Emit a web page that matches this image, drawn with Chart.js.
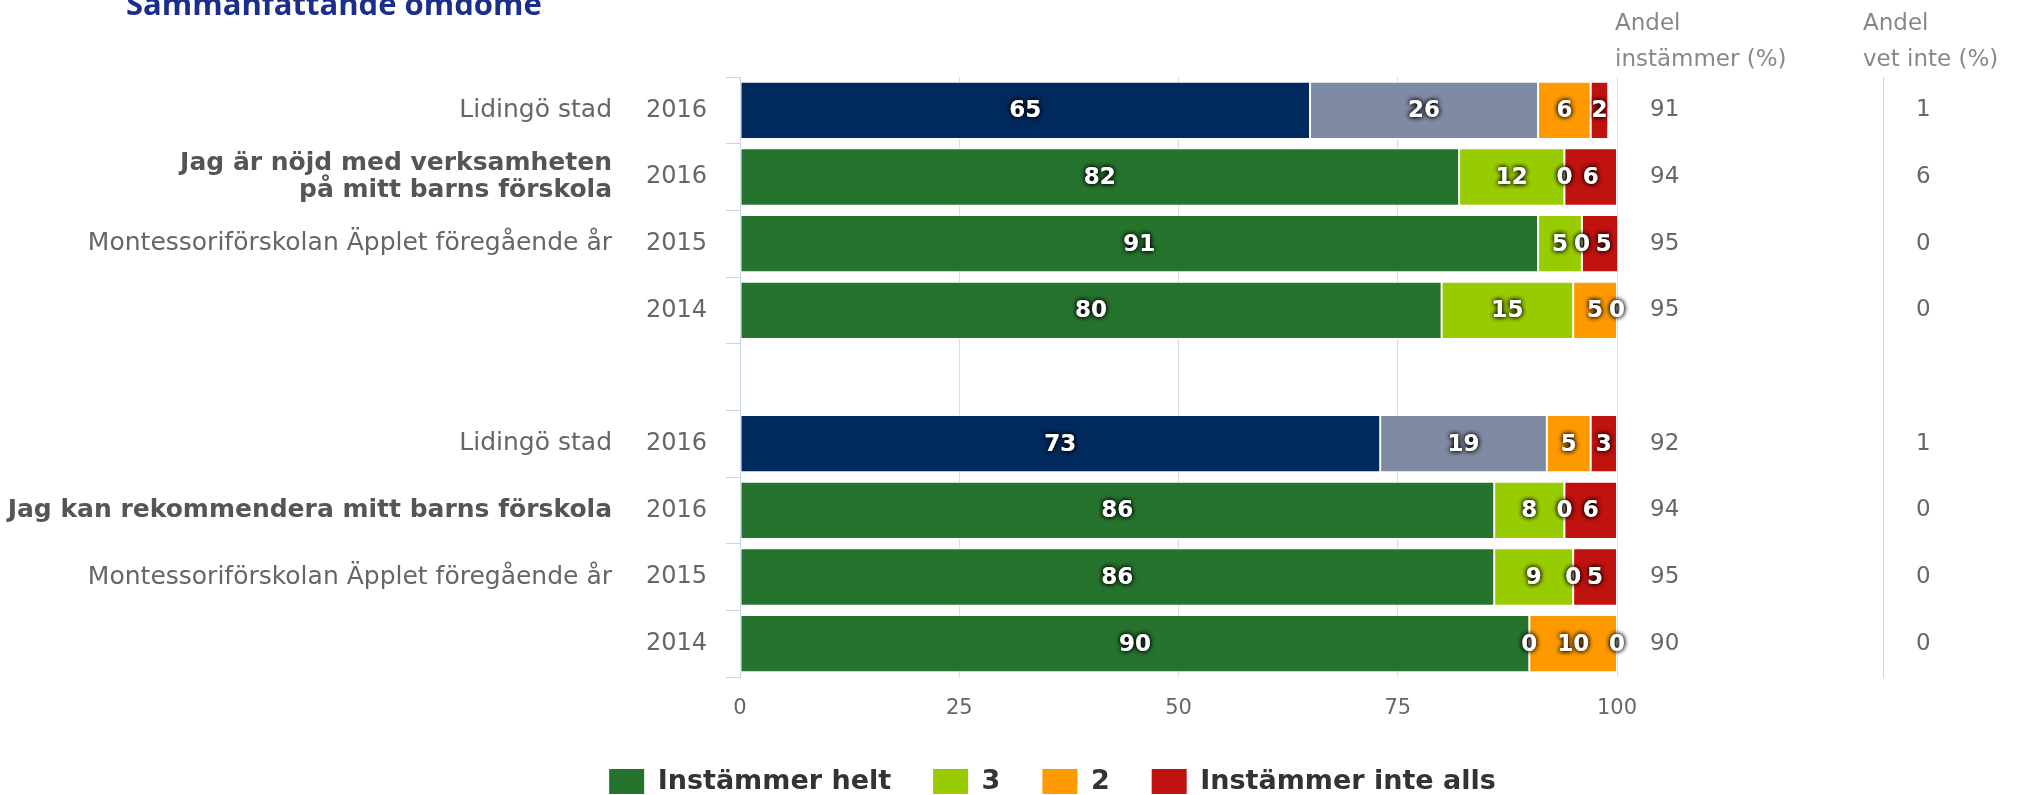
<!DOCTYPE html>
<html>
<head>
<meta charset="utf-8">
<script src="https://cdn.jsdelivr.net/npm/chart.js@4.4.0/dist/chart.umd.min.js"></script>
<style>
  html, body { margin: 0; padding: 0; background: #fff; }
</style>
</head>
<body>
<canvas id="wykres" width="2040" height="795"></canvas>
<script>
// rader (uppifrån och ned), rad 4 är ett tomt mellanrum
const years = ['2016', '2016', '2015', '2014', '', '2016', '2016', '2015', '2014'];
const groups = [
  'Lidingö stad',
  ['Jag är nöjd med verksamheten', 'på mitt barns förskola'],
  'Montessoriförskolan Äpplet föregående år',
  '',
  '',
  'Lidingö stad',
  'Jag kan rekommendera mitt barns förskola',
  'Montessoriförskolan Äpplet föregående år',
  ''
];
const boldRows = [1, 6];
const cityRows = [0, 5];

const seriesNames = ['Instämmer helt', '3', '2', 'Instämmer inte alls'];
const helt     = [65, 82, 91, 80, null, 73, 86, 86, 90];
const tre      = [26, 12, 5, 15, null, 19, 8, 9, 0];
const tva      = [6, 0, 0, 5, null, 5, 0, 0, 10];
const inteAlls = [2, 6, 5, 0, null, 3, 6, 5, 0];

const andelInstammer = [91, 94, 95, 95, null, 92, 94, 95, 90];
const andelVetInte   = [1, 6, 0, 0, null, 1, 0, 0, 0];

const xTicks = [0, 25, 50, 75, 100];

const colors     = ['#26732d', '#99cc00', '#ff9900', '#c0120f'];
const cityColors = ['#002a5e', '#7f8aa3', '#ff9900', '#c0120f'];

const FONT = 'DejaVu Sans';

// siffror i staplarna, vita med mörk skugga
const valueLabels = {
  id: 'valueLabels',
  afterDatasetsDraw(chart) {
    const ctx = chart.ctx;
    ctx.save();
    ctx.font = 'bold 23px "' + FONT + '"';
    ctx.textAlign = 'center';
    ctx.textBaseline = 'middle';
    chart.data.datasets.forEach((ds, i) => {
      chart.getDatasetMeta(i).data.forEach((bar, j) => {
        const v = ds.data[j];
        if (v == null) return;
        const x = (bar.x + bar.base) / 2;
        ctx.shadowColor = 'rgba(0,0,0,0.95)';
        ctx.shadowBlur = 5;
        ctx.fillStyle = '#fff';
        ctx.fillText(v, x, bar.y + 1);
        ctx.fillText(v, x, bar.y + 1);
      });
    });
    ctx.restore();
  }
};

// rubrik + kolumnrubriker
const extras = {
  id: 'extras',
  afterLayout(chart) {
    // legenden ligger lite till höger om mitten
    chart.legend.left = 65;
  },
  afterDraw(chart) {
    const { ctx, chartArea } = chart;
    const y4 = chart.scales.vetInte;
    ctx.save();
    ctx.fillStyle = '#1b2e8b';
    ctx.font = 'bold 31px "Open Sans"';
    ctx.textAlign = 'left';
    ctx.textBaseline = 'alphabetic';
    ctx.fillText('Sammanfattande omdöme', 126, 15);

    ctx.fillStyle = '#888';
    ctx.font = '23px "' + FONT + '"';
    ctx.fillText('Andel', chartArea.right - 2, 30);
    ctx.fillText('instämmer (%)', chartArea.right - 2, 66);
    ctx.fillText('Andel', y4.left - 20, 30);
    ctx.fillText('vet inte (%)', y4.left - 20, 66);
    ctx.restore();
  }
};

const seriesData = [helt, tre, tva, inteAlls];

new Chart(document.getElementById('wykres'), {
  type: 'bar',
  data: {
    labels: years,
    datasets: seriesData.map((d, i) => ({
      label: seriesNames[i],
      data: d,
      backgroundColor: c => (cityRows.includes(c.dataIndex) ? cityColors[i] : colors[i]),
      borderColor: '#ffffff',
      borderWidth: 1,
      borderSkipped: false,
      barPercentage: 0.86,
      categoryPercentage: 1.0,
      yAxisID: 'y'
    }))
  },
  options: {
    indexAxis: 'y',
    responsive: false,
    animation: false,
    devicePixelRatio: 1,
    layout: { padding: { top: 77, left: 0, right: 0, bottom: 0 } },
    plugins: {
      tooltip: { enabled: false },
      legend: {
        position: 'bottom',
        maxHeight: 69,
        labels: {
          boxWidth: 35,
          boxHeight: 25,
          padding: 42,
          color: '#333',
          font: { family: FONT, size: 27, weight: 'bold' },
          generateLabels: () => seriesNames.map((n, i) => ({
            text: n, fillStyle: colors[i], strokeStyle: colors[i], lineWidth: 0,
            hidden: false, datasetIndex: i, fontColor: '#333'
          }))
        }
      }
    },
    scales: {
      x: {
        type: 'linear', stacked: true, min: 0, max: 100, position: 'bottom',
        grid: { color: '#dcdcdc', drawTicks: false },
        border: { display: false },
        ticks: { padding: 19, color: '#666', font: { family: FONT, size: 21 } },
        afterBuildTicks: s => { s.ticks = xTicks.map(v => ({ value: v })); },
        afterFit: s => { s.height = 49; }
      },
      y: {
        type: 'category', stacked: true, position: 'left', offset: true, weight: 0,
        grid: { offset: true, drawOnChartArea: false, drawTicks: true, tickLength: 14, color: '#c6d4e4' },
        border: { display: true, color: '#c6d4e4' },
        ticks: { padding: 19, autoSkip: false, color: '#666', font: { family: FONT, size: 24 } },
        afterFit: s => { s.width = 94; }
      },
      grupp: {
        type: 'category', position: 'left', offset: true, weight: 1, labels: groups,
        grid: { display: false, drawTicks: false }, border: { display: false },
        ticks: {
          padding: 34, autoSkip: false,
          color: c => (boldRows.includes(c.index) ? '#555' : '#666'),
          font: c => ({ family: FONT, size: 25, lineHeight: 1.1, weight: boldRows.includes(c.index) ? 'bold' : 'normal' })
        },
        afterFit: s => { s.width = 646; }
      },
      instammer: {
        type: 'category', position: 'right', offset: true, weight: 0,
        labels: andelInstammer.map(v => (v == null ? '' : String(v))),
        grid: { display: false, drawTicks: false }, border: { display: false },
        ticks: { padding: 33, autoSkip: false, color: '#666', font: { family: FONT, size: 23 } },
        afterFit: s => { s.width = 266; }
      },
      vetInte: {
        type: 'category', position: 'right', offset: true, weight: 1,
        labels: andelVetInte.map(v => (v == null ? '' : String(v))),
        grid: { display: true, drawOnChartArea: false, drawTicks: false, color: '#c6d4e4' },
        border: { display: true, color: '#c6d4e4' },
        ticks: { padding: 33, autoSkip: false, color: '#666', font: { family: FONT, size: 23 } },
        afterFit: s => { s.width = 157; }
      }
    }
  },
  plugins: [valueLabels, extras]
});
</script>
</body>
</html>
